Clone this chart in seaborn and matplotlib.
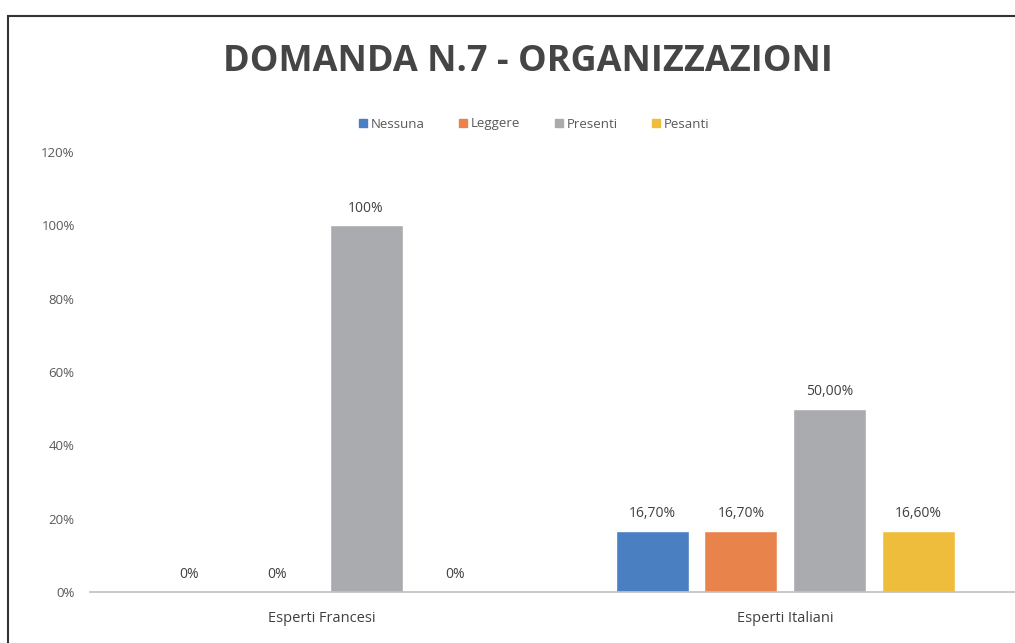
import matplotlib
matplotlib.use("Agg")
import matplotlib.pyplot as plt
import matplotlib.patches as mpatches
import seaborn as sns
import pandas as pd

categories = ["Esperti Francesi", "Esperti Italiani"]
series = ["Nessuna", "Leggere", "Presenti", "Pesanti"]
francesi = [0.0, 0.0, 100.0, 0.0]
italiani = [16.7, 16.7, 50.0, 16.6]
labels_francesi = ["0%", "0%", "100%", "0%"]
labels_italiani = ["16,70%", "16,70%", "50,00%", "16,60%"]
yticks = [0, 20, 40, 60, 80, 100, 120]
ytick_labels = ["0%", "20%", "40%", "60%", "80%", "100%", "120%"]
colors = ["#4a7fc1", "#e9834c", "#a9abae", "#efbd3c"]

rows = []
for s, v, l in zip(series, francesi, labels_francesi):
    rows.append({"cat": categories[0], "serie": s, "val": v, "lab": l})
for s, v, l in zip(series, italiani, labels_italiani):
    rows.append({"cat": categories[1], "serie": s, "val": v, "lab": l})
df = pd.DataFrame(rows)

sns.set_theme(style="white")
plt.rcParams["font.family"] = ["Open Sans", "DejaVu Sans"]

W, H = 1015, 643
fig = plt.figure(figsize=(W / 100, H / 100), dpi=100)
ax = fig.add_axes([90 / W, (H - 592) / H, 927 / W, 440 / H])

sns.barplot(data=df, x="cat", y="val", hue="serie", hue_order=series,
            order=categories, palette=colors, width=0.765, gap=0.175,
            ax=ax, legend=False, saturation=1)

ax.set_xlim(-0.5, 1.5)
ax.set_ylim(0, 120)
ax.set_yticks(yticks)
ax.set_yticklabels(ytick_labels, fontsize=9.5, color="#595959")
ax.set_xlabel("")
ax.set_ylabel("")
ax.tick_params(axis="x", labelsize=10.5, length=0, pad=14)
ax.tick_params(axis="y", length=0, pad=11)
for lab in ax.get_xticklabels():
    lab.set_color("#404040")
for sp in ["top", "right", "left"]:
    ax.spines[sp].set_visible(False)
ax.spines["bottom"].set_color("#bfbfbf")
ax.spines["bottom"].set_linewidth(1.2)

# data labels
for cont, lf, li in zip(ax.containers, labels_francesi, labels_italiani):
    ax.bar_label(cont, labels=[lf, li], padding=7, fontsize=10, color="#404040")

# title
fig.text(528 / W, 1 - 62 / H, "DOMANDA N.7 - ORGANIZZAZIONI", ha="center", va="center",
         fontsize=26, fontweight="bold", color="#454545")

# legend
handles = [mpatches.Patch(color=c, label=s) for c, s in zip(colors, series)]
fig.legend(handles=handles, loc="center", bbox_to_anchor=(534 / W, 1 - 124 / H),
           ncol=4, frameon=False, fontsize=9.5, handlelength=0.6, handleheight=0.6,
           handletextpad=0.3, columnspacing=2.6, labelcolor="#595959")

# outer frame
fig.add_artist(mpatches.Rectangle((8 / W, -0.05), 1.1, 1 - 16 / H + 0.05,
                                  transform=fig.transFigure, fill=False,
                                  edgecolor="#333333", linewidth=1.5))

fig.savefig("out.png", dpi=100)
